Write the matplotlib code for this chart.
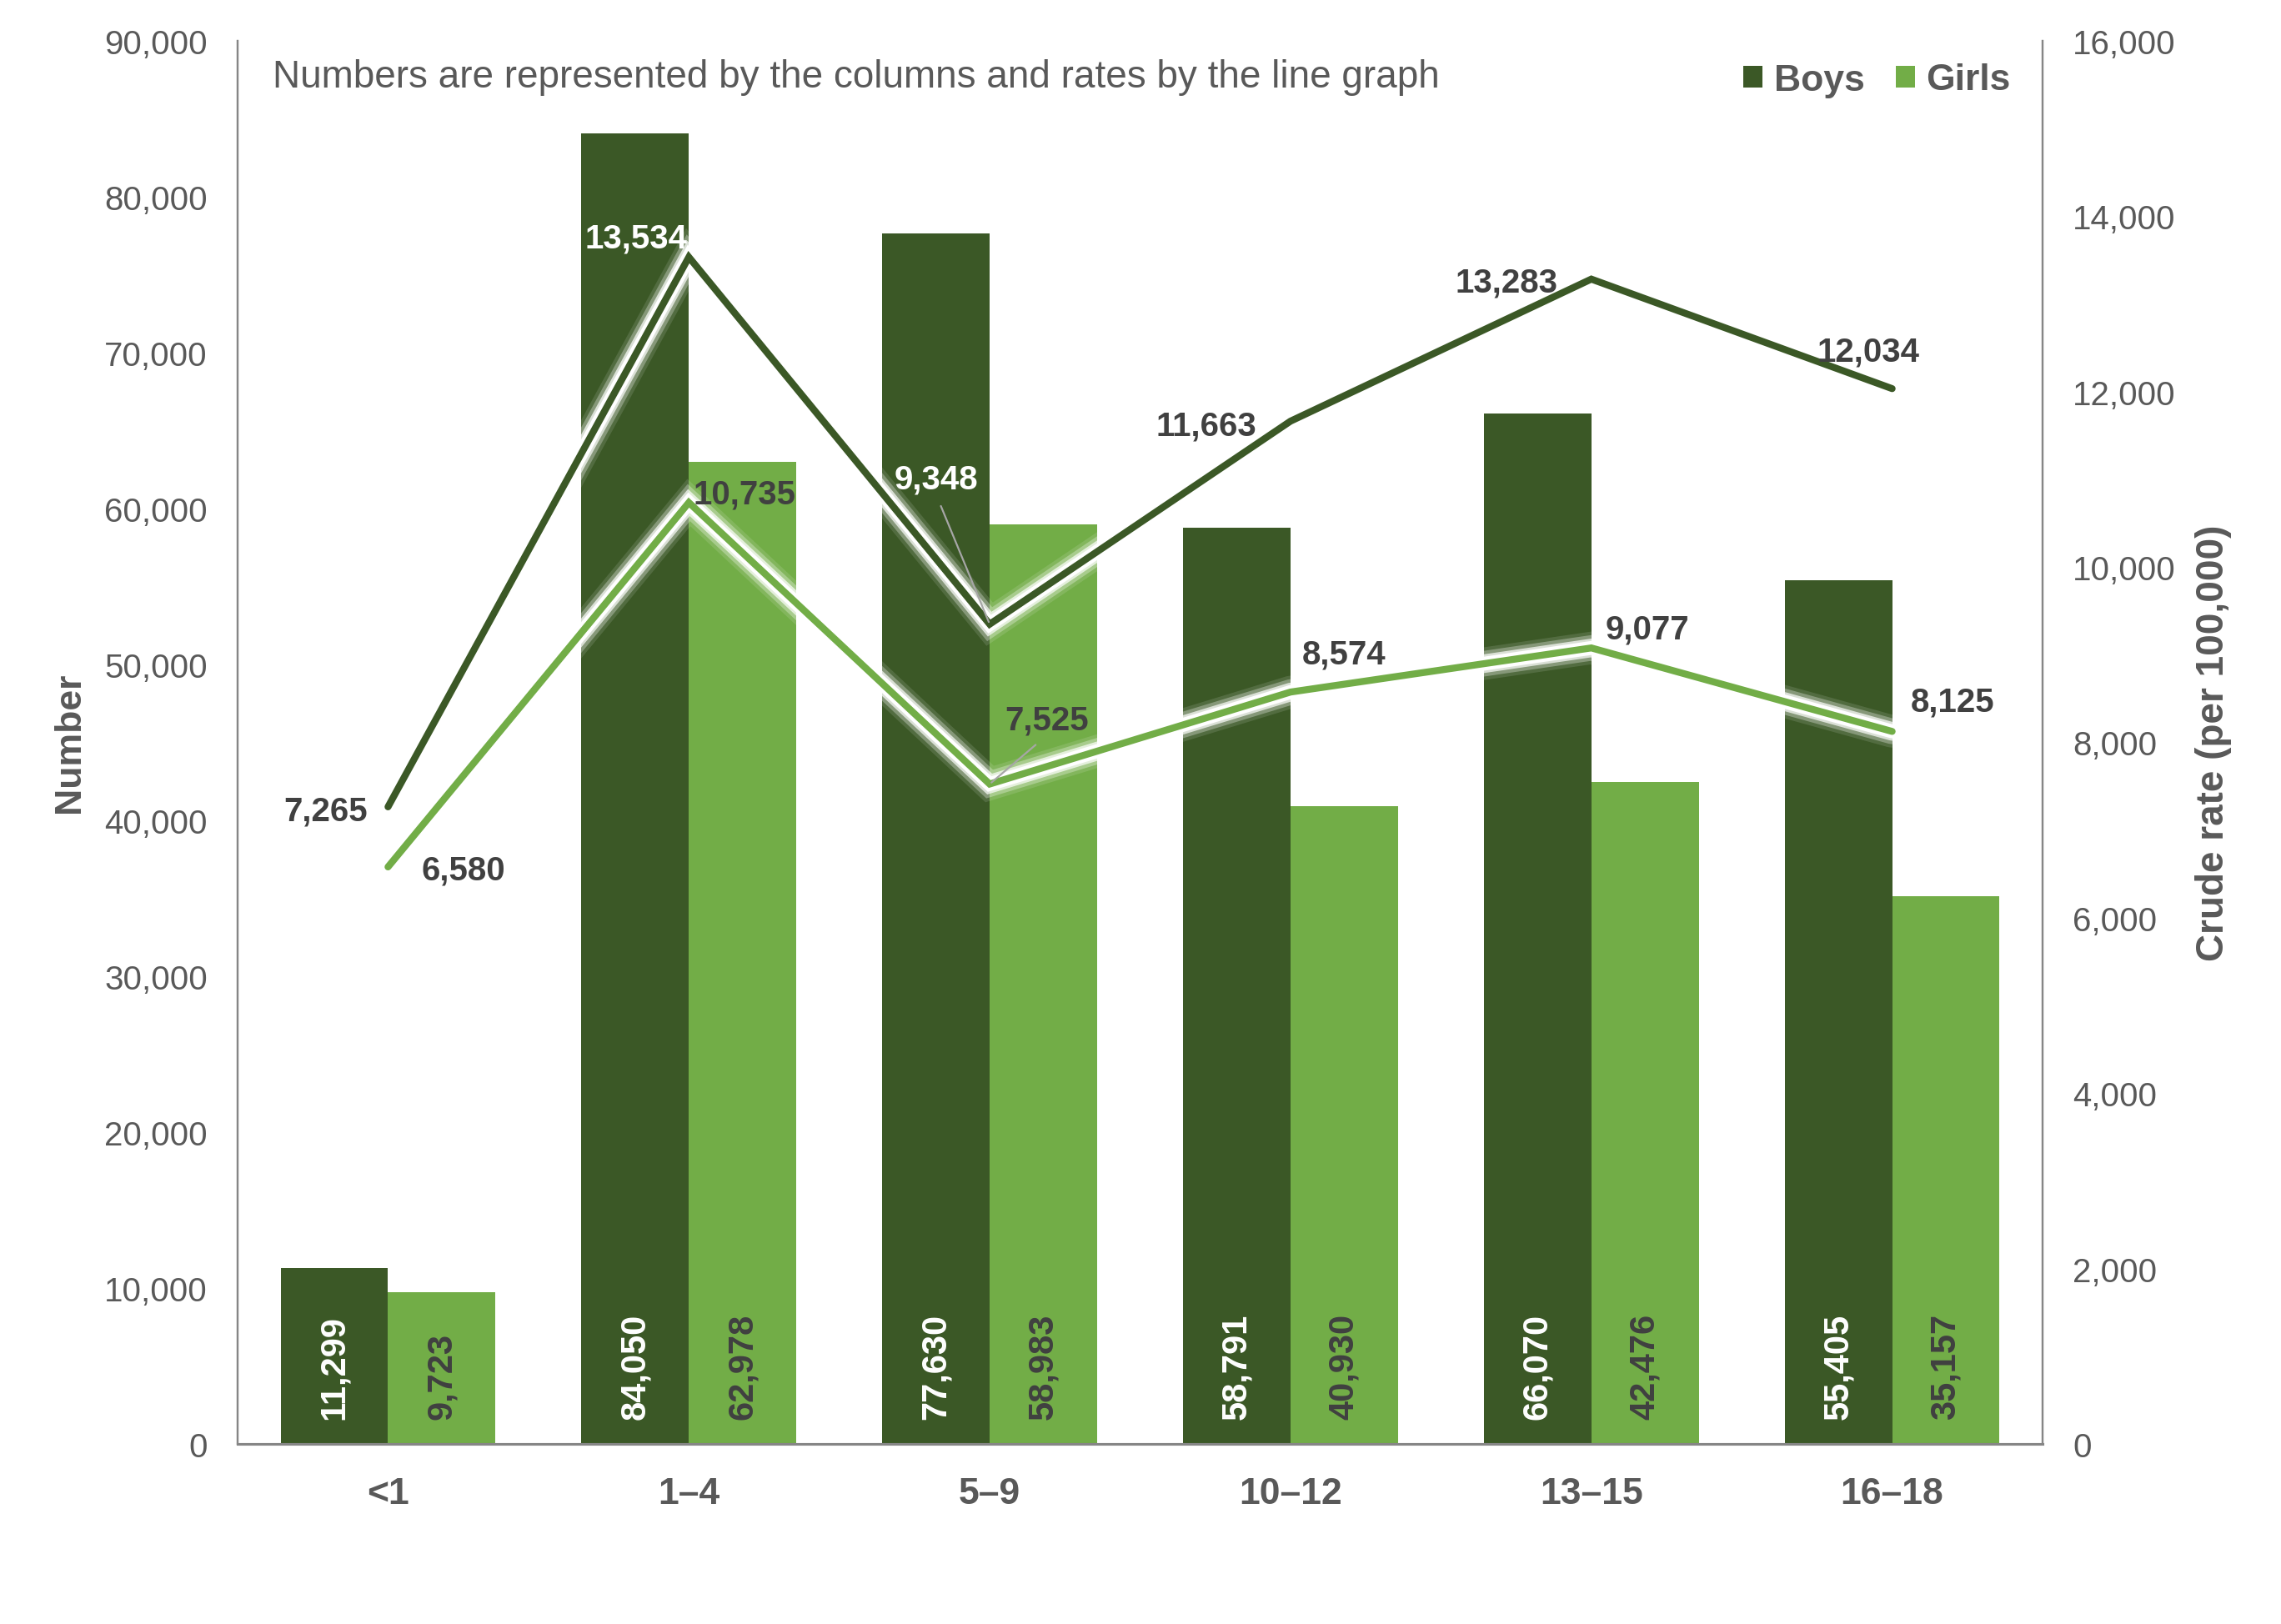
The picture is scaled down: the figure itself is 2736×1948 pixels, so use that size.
import numpy as np
import matplotlib
matplotlib.use("Agg")
import matplotlib.pyplot as plt
import matplotlib.patheffects as pe
from matplotlib.patches import Patch
from matplotlib.ticker import FuncFormatter, MultipleLocator

plt.rcParams['font.family'] = ['Liberation Sans', 'DejaVu Sans']

# ---- data ----
categories = ["<1", "1\u20134", "5\u20139", "10\u201312", "13\u201315", "16\u201318"]
boys_number = [11299, 84050, 77630, 58791, 66070, 55405]
girls_number = [9723, 62978, 58983, 40930, 42476, 35157]
boys_rate = [7265, 13534, 9348, 11663, 13283, 12034]
girls_rate = [6580, 10735, 7525, 8574, 9077, 8125]

# ---- style ----
C_BOYS = "#3B5826"
C_GIRLS = "#72AD47"
C_TICK = "#595959"
C_LABEL = "#404040"
C_AXIS = "#868686"

W, H, DPI = 2736, 1949, 200
fig = plt.figure(figsize=(W / DPI, H / DPI), dpi=DPI)
ax1 = fig.add_axes([285 / W, 1 - 1733 / H, (2450 - 285) / W, (1733 - 50) / H])
ax2 = ax1.twinx()

x = np.arange(len(categories))
bw = 0.357
ax1.bar(x - bw / 2, boys_number, width=bw, color=C_BOYS, zorder=2)
ax1.bar(x + bw / 2, girls_number, width=bw, color=C_GIRLS, zorder=2)

ax1.set_xlim(-0.5, len(categories) - 0.5)
ax1.set_ylim(0, 90000)
ax2.set_ylim(0, 16000)
ax1.yaxis.set_major_locator(MultipleLocator(10000))
ax2.yaxis.set_major_locator(MultipleLocator(2000))
fmt = FuncFormatter(lambda v, p: f"{int(v):,}")
ax1.yaxis.set_major_formatter(fmt)
ax2.yaxis.set_major_formatter(fmt)

ax1.set_xticks(x)
ax1.set_xticklabels(categories, fontsize=16, fontweight="bold", color=C_TICK)
ax1.tick_params(axis="x", length=0, pad=14)
ax1.tick_params(axis="y", length=0, pad=13, labelsize=14.5, labelcolor=C_TICK)
ax2.tick_params(axis="y", length=0, pad=13, labelsize=14.5, labelcolor=C_TICK)

for ax in (ax1, ax2):
    ax.spines["top"].set_visible(False)
    ax.spines["left"].set_color(C_AXIS)
    ax.spines["right"].set_color(C_AXIS)
    ax.spines["bottom"].set_color(C_AXIS)
    ax.spines["left"].set_linewidth(0.8)
    ax.spines["right"].set_linewidth(0.8)
    ax.spines["bottom"].set_linewidth(1.1)

# bar value labels
for xi, v in zip(x - bw / 2, boys_number):
    ax1.annotate(f"{v:,}", xy=(xi, 0), xytext=(0, 30), textcoords="offset pixels",
                 rotation=90, ha="center", va="bottom", fontsize=15,
                 fontweight="bold", color="white", zorder=3)
for xi, v in zip(x + bw / 2, girls_number):
    ax1.annotate(f"{v:,}", xy=(xi, 0), xytext=(0, 30), textcoords="offset pixels",
                 rotation=90, ha="center", va="bottom", fontsize=15,
                 fontweight="bold", color=C_LABEL, zorder=3)

# rate lines with soft white glow
lw = 3.0
glow = [pe.Stroke(linewidth=lw + 11, foreground="white", alpha=0.12),
        pe.Stroke(linewidth=lw + 8, foreground="white", alpha=0.3),
        pe.Stroke(linewidth=lw + 5, foreground="white", alpha=0.7),
        pe.Stroke(linewidth=lw + 3, foreground="white", alpha=1.0),
        pe.Normal()]
ax2.plot(x, boys_rate, color=C_BOYS, lw=lw, solid_capstyle="round",
         solid_joinstyle="miter", path_effects=glow, zorder=4)
ax2.plot(x, girls_rate, color=C_GIRLS, lw=lw, solid_capstyle="round",
         solid_joinstyle="miter", path_effects=glow, zorder=4)

# rate label placement (ha, dx px, dy px, color, leader)
boys_lab = [("right", -25, -5, C_LABEL, False),
            ("right", -2, 23, "white", False),
            ("center", -64, 174, "white", True),
            ("right", -41, -5, C_LABEL, False),
            ("right", -40, -4, C_LABEL, False),
            ("center", -29, 45, C_LABEL, False)]
girls_lab = [("left", 40, -4, C_LABEL, False),
             ("left", 5, 10, C_LABEL, False),
             ("center", 68, 77, C_LABEL, True),
             ("left", 14, 46, C_LABEL, False),
             ("left", 17, 23, C_LABEL, False),
             ("left", 22, 36, C_LABEL, False)]

for vals, labs in ((boys_rate, boys_lab), (girls_rate, girls_lab)):
    for xi, v, (ha, dx, dy, col, lead) in zip(x, vals, labs):
        kw = {}
        if lead:
            kw["arrowprops"] = dict(arrowstyle="-", color="#A6A6A6", lw=0.8,
                                    shrinkA=3, shrinkB=1, relpos=(0.5, 0.0))
        ax2.annotate(f"{v:,}", xy=(xi, v), xytext=(dx, dy),
                     textcoords="offset pixels", ha=ha, va="center",
                     fontsize=14.5, fontweight="bold", color=col, zorder=5, **kw)

# axis titles
fig.text(83 / W, 1 - 891 / H, "Number", rotation=90, ha="center", va="center",
         fontsize=16, fontweight="bold", color=C_TICK)
fig.text(2655 / W, 1 - 891 / H, "Crude rate (per 100,000)", rotation=90,
         ha="center", va="center", fontsize=16.5, fontweight="bold", color=C_TICK)

# note text
fig.text(327 / W, 1 - 105 / H,
         "Numbers are represented by the columns and rates by the line graph",
         ha="left", va="baseline", fontsize=16.5, color=C_TICK)

# legend
handles = [Patch(facecolor=C_BOYS, label="Boys"), Patch(facecolor=C_GIRLS, label="Girls")]
leg = fig.legend(handles=handles, loc="center right",
                 bbox_to_anchor=(2412 / W, 1 - 97 / H), ncol=2, frameon=False,
                 prop=dict(size=16, weight="bold"), handlelength=0.52,
                 handleheight=0.52, handletextpad=0.3, columnspacing=0.85,
                 borderpad=0, borderaxespad=0)
for t in leg.get_texts():
    t.set_color(C_TICK)

fig.savefig("out.png", dpi=DPI, facecolor="white")
